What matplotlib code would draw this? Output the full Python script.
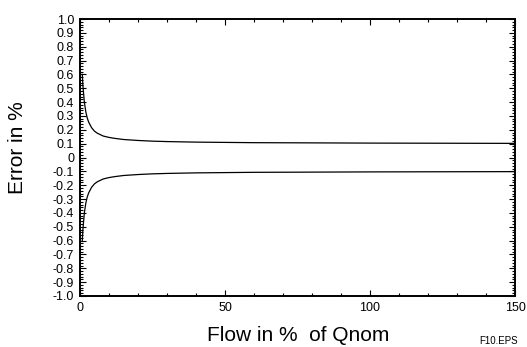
import matplotlib
matplotlib.use("Agg")
import matplotlib.pyplot as plt
from matplotlib.ticker import MultipleLocator

# Flow in % of Qnom and the error envelope
flow = [0.8, 1, 1.5, 2, 2.5, 3, 4, 5, 6, 8, 10, 12, 15, 20, 25, 30, 40, 50, 60, 75, 100, 125, 150]
err_upper = [0.60, 0.52, 0.40, 0.33, 0.285, 0.255, 0.215, 0.19, 0.175, 0.155, 0.145, 0.138, 0.130,
             0.123, 0.118, 0.115, 0.111, 0.109, 0.107, 0.106, 0.104, 0.103, 0.102]
err_lower = [-v for v in err_upper]

yticks = [round(-1.0 + 0.1 * i, 1) for i in range(21)]
ytick_labels = ["0" if abs(v) < 1e-9 else f"{v:.1f}" for v in yticks]
xticks = [0, 50, 100, 150]
xtick_labels = ["0", "50", "100", "150"]

plt.rcParams["font.family"] = ["Liberation Sans", "DejaVu Sans"]

fig = plt.figure(figsize=(5.27, 3.47), dpi=100)
ax = fig.add_axes([80 / 527, 1 - 296 / 347, 435 / 527, 277 / 347])

ax.plot(flow, err_upper, color="black", lw=0.9)
ax.plot(flow, err_lower, color="black", lw=0.9)

ax.set_xlim(0, 150)
ax.set_ylim(-1.0, 1.0)
ax.set_yticks(yticks)
ax.set_yticklabels(ytick_labels)
ax.set_xticks(xticks)
ax.set_xticklabels(xtick_labels)
ax.xaxis.set_minor_locator(MultipleLocator(10))
ax.yaxis.set_minor_locator(MultipleLocator(0.02))

ax.tick_params(which="both", direction="in", top=True, right=True, width=0.8,
               labelsize=9)
ax.tick_params(which="major", length=4)
ax.tick_params(which="minor", length=2)
ax.tick_params(axis="y", pad=4.3)
ax.tick_params(axis="x", pad=4)

for s in ax.spines.values():
    s.set_linewidth(1.4)

fig.text(17.5 / 527, 1 - 147.5 / 347, "Error in %", fontsize=15, rotation=90,
         ha="center", va="center")
fig.text(298.5 / 527, 1 - 335.5 / 347, "Flow in %  of Qnom", fontsize=15,
         ha="center", va="center")
fig.text(518 / 527, 1 - 341.5 / 347, "F10.EPS", fontsize=7, ha="right", va="center")

fig.savefig("out.png", dpi=100)
